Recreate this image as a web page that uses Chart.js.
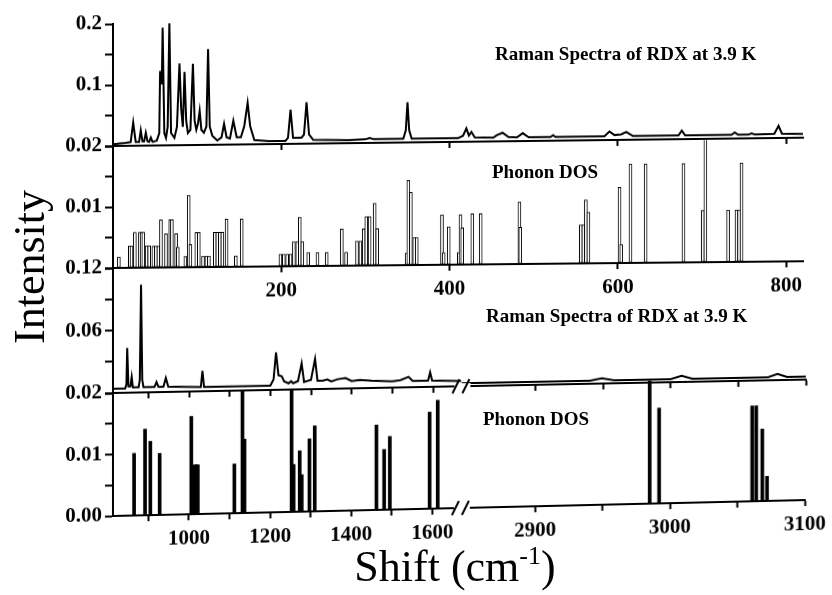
<!DOCTYPE html>
<html><head><meta charset="utf-8">
<script src="https://cdn.jsdelivr.net/npm/chart.js@4.4.1/dist/chart.umd.min.js"></script>
<style>
html,body{margin:0;padding:0;background:#fff;}
#wrap{position:relative;width:832px;height:595px;overflow:hidden;background:#fff;}
canvas{position:absolute;left:0;top:0;transform-origin:113px 0;}
#c1{transform:skewY(-0.69deg);}
#c2{transform:skewY(-0.56deg);}
#c3{transform:skewY(-1.11deg);}
#c4{transform:skewY(-1.32deg);}
.t{position:absolute;font-family:'Liberation Serif','Times New Roman',serif;font-weight:bold;font-size:19px;line-height:1;white-space:nowrap;color:#000;}
.ax{position:absolute;font-family:'Liberation Serif','Times New Roman',serif;font-size:44px;line-height:1;white-space:nowrap;color:#000;}
.ax sup{font-size:26px;vertical-align:top;position:relative;top:-2px;}
</style></head><body>
<div id="wrap">
<canvas id="c1" width="832" height="595"></canvas>
<canvas id="c2" width="832" height="595"></canvas>
<canvas id="c3" width="832" height="595"></canvas>
<canvas id="c4" width="832" height="595"></canvas>
<div class="t" style="left:495px;top:44px">Raman Spectra of RDX at 3.9 K</div>
<div class="t" style="left:492px;top:162px">Phonon DOS</div>
<div class="t" style="left:486px;top:306px">Raman Spectra of RDX at 3.9 K</div>
<div class="t" style="left:483px;top:409px">Phonon DOS</div>
<div class="ax" style="left:30px;top:267px;transform:translate(-50%,-50%) rotate(-90deg);">Intensity</div>
<div class="ax" style="left:455px;top:567px;transform:translate(-50%,-50%);">Shift (cm<sup>-1</sup>)</div>
</div>
<script>
// ---- Data: Raman spectrum 0-820 cm-1 ----
const ramanA_x = [0,15,21,24,27,31,33,35,37,39,
  41,43,45,47,52,55,56,58,59,61,
  63,65,67,69,73,76,79,81,83,85,
  87,89,92,95,97,99,101,103,105,108,
  111,113,115,118,124,129,132,135,139,143,
  147,152,156,160,163,168,185,205,208,211,
  214,224,227,230,233,238,280,300,305,310,
  345,348,350,352,355,410,416,420,423,426,
  430,452,456,463,470,480,487,494,520,523,
  526,584,590,596,604,610,618,672,676,680,
  735,739,743,755,759,763,786,791,795,820];
const ramanA_y = [0.003,0.005,0.006,0.038,0.006,0.006,0.025,0.007,0.007,0.021,
  0.007,0.006,0.013,0.006,0.008,0.02,0.122,0.1,0.193,0.02,
  0.012,0.03,0.201,0.02,0.012,0.03,0.134,0.06,0.03,0.12,
  0.04,0.02,0.025,0.133,0.04,0.025,0.035,0.056,0.025,0.02,
  0.03,0.157,0.03,0.015,0.007,0.012,0.034,0.012,0.01,0.039,
  0.012,0.012,0.03,0.068,0.03,0.007,0.005,0.005,0.01,0.056,
  0.01,0.01,0.015,0.068,0.015,0.006,0.005,0.006,0.008,0.006,
  0.006,0.02,0.066,0.02,0.006,0.006,0.01,0.022,0.01,0.016,
  0.007,0.006,0.01,0.014,0.007,0.006,0.013,0.006,0.006,0.009,
  0.006,0.006,0.014,0.008,0.009,0.013,0.006,0.006,0.014,0.006,
  0.006,0.01,0.006,0.006,0.008,0.006,0.007,0.02,0.007,0.006];

// ---- Data: Phonon DOS 0-820 cm-1 ----
const dosA_x = [7,20,22,26,32,34,36,40,43,48,
  51,54,57,63,68,70,75,77,86,90,
  92,99,102,107,111,114,121,124,127,130,
  135,146,153,199,203,207,211,215,219,222,
  225,232,243,254,272,277,290,294,298,301,
  305,311,314,349,351,354,358,361,391,393,
  399,411,413,415,427,437,483,484,556,559,
  562,565,602,604,615,633,678,701,704,731,
  741,744,747];
const dosA_y = [0.0018,0.0036,0.0036,0.0058,0.0058,0.0058,0.0058,0.0036,0.0036,0.0035,
  0.0035,0.0035,0.0078,0.0055,0.0078,0.0078,0.0055,0.0033,0.0018,0.0118,
  0.0037,0.0057,0.0057,0.0018,0.0018,0.0018,0.0057,0.0057,0.0057,0.0057,
  0.0078,0.0018,0.0078,0.002,0.002,0.002,0.002,0.004,0.004,0.008,
  0.004,0.0022,0.0022,0.0022,0.006,0.0022,0.004,0.004,0.006,0.008,
  0.008,0.0102,0.006,0.002,0.0139,0.0119,0.0045,0.0045,0.0082,0.002,
  0.0062,0.002,0.0082,0.006,0.0083,0.0083,0.0102,0.006,0.0063,0.0063,
  0.0104,0.0084,0.0124,0.003,0.0162,0.0162,0.0162,0.0085,0.0205,0.0085,
  0.0085,0.0085,0.0162];

// ---- Data: Raman spectrum, 813-1670 and 2845-3100 cm-1 ----
const ramanB1_x = [813,843,846,848,851,856,859,862,876,879,
  882,885,888,915,920,925,937,943,949,1029,
  1033,1037,1200,1208,1214,1220,1228,1234,1245,1251,
  1256,1268,1277,1283,1300,1310,1316,1330,1340,1350,
  1365,1385,1400,1420,1450,1500,1520,1540,1550,1588,
  1593,1598,1670];
const ramanB1_y = [0.004,0.004,0.008,0.043,0.006,0.006,0.015,0.005,0.005,0.012,
  0.1035,0.012,0.005,0.005,0.0098,0.005,0.005,0.0134,0.005,0.004,
  0.0197,0.004,0.004,0.01,0.036,0.014,0.013,0.008,0.006,0.008,
  0.006,0.008,0.025,0.007,0.009,0.029,0.008,0.008,0.009,0.007,
  0.009,0.01,0.007,0.008,0.007,0.006,0.007,0.01,0.006,0.006,
  0.014,0.006,0.005];
const ramanB2_x = [2845,2940,2949,2958,3000,3008,3016,3072,3079,3086,3100];
const ramanB2_y = [0.003,0.003,0.005,0.003,0.003,0.006,0.003,0.003,0.006,0.003,0.003];

// ---- Data: Phonon DOS, 813-1670 and 2845-3100 cm-1 ----
const dosB1_x = [865,892,905,928,1006,1014,1018,1022,1112,1132,
  1137,1253,1258,1273,1278,1297,1310,1462,1481,1495,
  1593,1613];
const dosB1_y = [0.0101,0.014,0.012,0.010,0.0159,0.008,0.008,0.008,0.008,0.0205,
  0.012,0.0205,0.0077,0.0099,0.006,0.0118,0.0139,0.0138,0.0098,0.0119,
  0.0157,0.0176];
const dosB2_x = [2985,2992,3061,3064,3068.5,3072];
const dosB2_y = [0.0205,0.0155,0.0155,0.0155,0.0117,0.004];

// ---- Ticks ----
const yA_ticks = [0,0.05,0.1,0.15,0.2];   const yA_labels = ['','','0.1','','0.2'];
const yB_ticks = [0,0.005,0.01,0.015,0.02]; const yB_labels = ['','','0.01','','0.02'];
const yC_ticks = [0,0.03,0.06,0.09,0.12]; const yC_labels = ['','','0.06','','0.12'];
const yD_ticks = [0,0.005,0.01,0.015,0.02]; const yD_labels = ['0.00','','0.01','','0.02'];
const xA_ticks = [200,400,600,800]; const xA_labels = ['200','400','600','800'];
const xB1_ticks = [900,1000,1100,1200,1300,1400,1500,1600];
const xB1_labels = ['','1000','','1200','','1400','','1600'];
const xB2_ticks = [2900,2950,3000,3050,3100];
const xB2_labels = ['2900','','3000','','3100'];

const FONT = "'Liberation Serif','Times New Roman',serif";
const pts = (xs, ys) => xs.map((x, i) => ({x: x, y: ys[i]}));

function yAxis(min, max, ticks, labels) {
  return {
    type: 'linear', position: 'left', min: min, max: max,
    afterFit: s => { s.width = 60; },
    afterBuildTicks: s => { s.ticks = ticks.map(v => ({value: v})); },
    grid: {display: true, drawOnChartArea: false, drawTicks: true, tickLength: 8, color: '#000', tickColor: '#000', tickWidth: 2},
    border: {display: true, color: '#000', width: 2},
    ticks: {color: '#000', padding: 3, autoSkip: false, font: {family: FONT, size: 21, weight: 'bold'},
      callback: (v, i) => labels[i]}
  };
}
function xAxis(min, max, ticks, labels, show, weight) {
  const o = {
    type: 'linear', position: 'bottom', min: min, max: max, offset: false,
    afterFit: s => { s.height = show ? 45 : 8; },
    afterBuildTicks: s => { s.ticks = ticks.map(v => ({value: v})); },
    grid: {display: true, offset: false, drawOnChartArea: false, drawTicks: true, tickLength: 6, color: '#000', tickColor: '#000', tickWidth: 2},
    border: {display: true, color: '#000', width: 2},
    ticks: {display: show, color: '#000', padding: 6, maxRotation: 0, autoSkip: false,
      font: {family: FONT, size: 21, weight: 'bold'}, callback: (v, i) => labels[i]}
  };
  if (weight) { o.stack = 'xs'; o.stackWeight = weight; }
  return o;
}
function baseOptions(padding, scales) {
  return {
    responsive: false, animation: false, events: [],
    layout: {padding: padding},
    plugins: {legend: {display: false}, tooltip: {enabled: false}, title: {display: false}},
    scales: scales
  };
}
const lineStyle = {borderColor: '#000', borderWidth: 2, pointRadius: 0, tension: 0, fill: false};
const barOpen = {backgroundColor: '#fff', borderColor: '#000', borderWidth: 1, barThickness: 3, grouped: false, borderSkipped: false};
const barSolid = {backgroundColor: '#000', borderColor: '#000', borderWidth: 0, barThickness: 3, grouped: false};

const breakMarks = {
  id: 'breakMarks',
  afterDraw(chart) {
    const s = chart.scales.x1;
    if (!s) return;
    const ctx = chart.ctx, x = s.right, y = chart.chartArea.bottom;
    ctx.save();
    ctx.fillStyle = '#fff';
    ctx.fillRect(x - 7, y - 3, 16, 6);
    ctx.strokeStyle = '#000'; ctx.lineWidth = 2;
    ctx.beginPath();
    ctx.moveTo(x - 9, y + 7); ctx.lineTo(x - 2, y - 7);
    ctx.moveTo(x + 1, y + 7); ctx.lineTo(x + 8, y - 7);
    ctx.stroke();
    ctx.restore();
  }
};

// Panel 1: Raman, 0-820
new Chart(document.getElementById('c1'), {
  type: 'line',
  data: {datasets: [Object.assign({data: pts(ramanA_x, ramanA_y), xAxisID: 'x', yAxisID: 'y'}, lineStyle)]},
  options: baseOptions({left: 53, right: 29, top: 24, bottom: 441},
    {x: xAxis(0, 820, xA_ticks, xA_labels, false), y: yAxis(0, 0.2, yA_ticks, yA_labels)})
});
// Panel 2: Phonon DOS, 0-820
new Chart(document.getElementById('c2'), {
  type: 'bar',
  data: {datasets: [Object.assign({data: pts(dosA_x, dosA_y), xAxisID: 'x', yAxisID: 'y'}, barOpen)]},
  options: baseOptions({left: 53, right: 29, top: 146, bottom: 282},
    {x: xAxis(0, 820, xA_ticks, xA_labels, true), y: yAxis(0, 0.02, yB_ticks, yB_labels)})
});
// Panel 3: Raman, broken axis
new Chart(document.getElementById('c3'), {
  type: 'line',
  data: {datasets: [
    Object.assign({data: pts(ramanB1_x, ramanB1_y), xAxisID: 'x1', yAxisID: 'y'}, lineStyle),
    Object.assign({data: pts(ramanB2_x, ramanB2_y), xAxisID: 'x2', yAxisID: 'y'}, lineStyle)
  ]},
  options: baseOptions({left: 53, right: 26, top: 268, bottom: 194},
    {x1: xAxis(813, 1670, xB1_ticks, xB1_labels, false, 349),
     x2: xAxis(2845, 3100, xB2_ticks, xB2_labels, false, 345),
     y: yAxis(0, 0.12, yC_ticks, yC_labels)}),
  plugins: [breakMarks]
});
// Panel 4: Phonon DOS, broken axis
new Chart(document.getElementById('c4'), {
  type: 'bar',
  data: {datasets: [
    Object.assign({data: pts(dosB1_x, dosB1_y), xAxisID: 'x1', yAxisID: 'y'}, barSolid),
    Object.assign({data: pts(dosB2_x, dosB2_y), xAxisID: 'x2', yAxisID: 'y'}, barSolid)
  ]},
  options: baseOptions({left: 53, right: 26, top: 393, bottom: 34},
    {x1: xAxis(813, 1670, xB1_ticks, xB1_labels, true, 349),
     x2: xAxis(2845, 3100, xB2_ticks, xB2_labels, true, 345),
     y: yAxis(0, 0.02, yD_ticks, yD_labels)}),
  plugins: [breakMarks]
});
</script>
</body></html>
